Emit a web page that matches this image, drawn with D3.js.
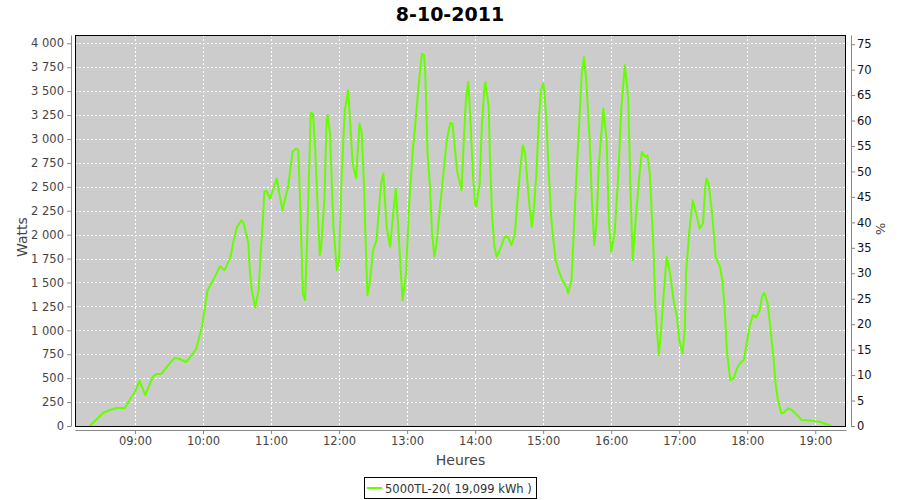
<!DOCTYPE html>
<html><head><meta charset="utf-8">
<script src="https://cdn.jsdelivr.net/npm/d3@7"></script>
<style>body{margin:0;background:#fff}svg{display:block}</style>
</head><body>
<svg id="c" width="900" height="500"></svg>
<script>
const title = "8-10-2011";
const seriesName = "5000TL-20( 19,099 kWh )";
const yLabel = "Watts", y2Label = "%", xLabel = "Heures";
const hourTicks = ["09:00","10:00","11:00","12:00","13:00","14:00","15:00","16:00","17:00","18:00","19:00"];
const wattTicks = [0,250,500,750,1000,1250,1500,1750,2000,2250,2500,2750,3000,3250,3500,3750,4000];
const pctTicks = [0,5,10,15,20,25,30,35,40,45,50,55,60,65,70,75];
const times = ["08:20","08:32","08:38","08:44","08:51","08:57","09:00","09:04","09:09","09:16","09:19","09:23","09:31","09:35","09:39","09:45","09:50","09:54","09:59","10:04","10:09","10:15","10:19","10:24","10:27","10:30","10:34","10:36","10:40","10:41","10:43","10:46","10:49","10:51","10:53","10:54","10:56","10:59","11:05","11:07","11:10","11:15","11:19","11:22","11:24","11:26","11:28","11:30","11:32","11:34","11:35","11:37","11:39","11:41","11:43","11:44","11:47","11:49","11:50","11:52","11:55","11:58","12:00","12:02","12:05","12:08","12:10","12:12","12:15","12:18","12:20","12:22","12:24","12:25","12:27","12:30","12:33","12:37","12:39","12:42","12:45","12:48","12:50","12:52","12:54","12:56","12:59","13:02","13:05","13:07","13:10","13:13","13:15","13:16","13:18","13:20","13:22","13:24","13:26","13:29","13:32","13:35","13:38","13:40","13:42","13:44","13:46","13:48","13:50","13:52","13:54","13:56","13:58","14:00","14:01","14:04","14:06","14:08","14:09","14:12","14:13","14:15","14:17","14:19","14:23","14:26","14:29","14:32","14:35","14:38","14:40","14:42","14:44","14:46","14:48","14:50","14:52","14:54","14:56","14:58","15:00","15:01","15:03","15:05","15:07","15:09","15:11","15:14","15:17","15:21","15:22","15:25","15:28","15:31","15:34","15:36","15:38","15:41","15:43","15:45","15:47","15:49","15:53","15:56","15:58","16:00","16:03","16:06","16:09","16:12","16:15","16:17","16:19","16:22","16:25","16:27","16:30","16:32","16:34","16:37","16:39","16:41","16:42","16:44","16:47","16:49","16:52","16:55","16:58","17:00","17:03","17:05","17:06","17:09","17:12","17:15","17:18","17:21","17:23","17:24","17:26","17:29","17:31","17:32","17:36","17:38","17:40","17:42","17:45","17:48","17:51","17:54","17:57","17:59","18:02","18:05","18:08","18:11","18:13","18:15","18:18","18:20","18:23","18:25","18:27","18:30","18:32","18:36","18:39","18:44","18:48","18:57","19:04","19:07","19:13","19:14"];
const watts = [0,139,167,188,188,306,358,473,324,522,543,543,661,710,703,668,738,807,1037,1420,1525,1671,1629,1754,1943,2081,2151,2117,1908,1664,1420,1240,1420,1838,2186,2447,2458,2378,2587,2450,2256,2500,2865,2900,2883,2221,1386,1316,2012,2847,3272,3265,2883,2290,1786,1838,2360,3196,3248,3057,2081,1629,1734,2534,3300,3509,3126,2743,2587,3161,3057,2500,1699,1368,1490,1838,1943,2534,2639,2081,1873,2256,2482,2117,1699,1316,1595,2360,2883,3126,3544,3892,3875,3684,2848,2534,2012,1768,1908,2290,2639,2987,3168,3161,2917,2674,2569,2465,2987,3439,3596,3161,2639,2326,2290,2534,3161,3509,3596,3335,2813,2186,1873,1768,1873,1977,1977,1890,2012,2465,2708,2935,2848,2569,2290,2081,2290,2639,3161,3509,3579,3509,3161,2639,2186,1943,1734,1612,1525,1438,1386,1525,2290,2987,3684,3857,3614,2987,2360,1890,2117,2708,3318,2987,2117,1820,2012,2569,3335,3770,3439,2465,1734,2221,2639,2865,2813,2830,2639,1943,1246,898,742,1003,1490,1768,1595,1316,1142,898,759,1037,1595,2047,2360,2221,2064,2117,2500,2587,2534,2221,1943,1768,1664,1525,1246,794,480,498,603,661,689,828,1037,1159,1135,1211,1350,1392,1281,1072,724,446,272,132,139,183,170,115,63,55,45,28,7,0];

const svg = d3.select("#c");
const L = 75, R = 846, T = 35, B = 426;
const parse = d3.timeParse("%Y-%m-%d %H:%M:%S");
const day = "2011-10-08 ";
const x = d3.scaleTime().domain([parse(day+"08:07:04"), parse(day+"19:27:06")]).range([L, R]);
const y = d3.scaleLinear().domain([0, 4086.7]).range([B, T]);
const y2 = d3.scaleLinear().domain([0, 76.8]).range([B, T]);
const font = "DejaVu Sans, sans-serif";

// plot background
svg.append("rect").attr("x", L).attr("y", T).attr("width", R-L).attr("height", B-T).attr("fill", "#cccccc");

// gridlines
const hourDates = hourTicks.map(h => parse(day + h + ":00"));
svg.append("g").selectAll("line").data(hourDates).join("line")
  .attr("x1", d => Math.round(x(d))+0.5).attr("x2", d => Math.round(x(d))+0.5)
  .attr("y1", T).attr("y2", B)
  .attr("stroke", "#fff").attr("stroke-dasharray", "2,2");
svg.append("g").selectAll("line").data(wattTicks.filter(v => v > 0)).join("line")
  .attr("x1", L).attr("x2", R)
  .attr("y1", d => Math.round(y(d))+0.5).attr("y2", d => Math.round(y(d))+0.5)
  .attr("stroke", "#fff").attr("stroke-dasharray", "2,2");

// line
const pts = times.map((t, i) => ({t: parse(day + t + ":00"), v: watts[i]}));
svg.append("path").datum(pts)
  .attr("fill", "none").attr("stroke", "#66ff00").attr("stroke-width", 2)
  .attr("stroke-linejoin", "round")
  .attr("d", d3.line().x(d => x(d.t)).y(d => y(d.v)));

// plot border
svg.append("rect").attr("x", L+0.5).attr("y", T+0.5).attr("width", R-L-1).attr("height", B-T)
  .attr("fill", "none").attr("stroke", "#000").attr("stroke-width", 1);

// axes
const fmt = d3.formatLocale({decimal: ",", thousands: "\u00a0", grouping: [3], currency: ["", ""]}).format(",d");
const styleAxis = (g, col) => {
  g.select(".domain").attr("stroke", "#888");
  g.selectAll(".tick line").attr("stroke", "#888");
  g.selectAll("text").attr("fill", col).style("font-family", font).style("font-size", "11.5px");
};
svg.append("g").attr("transform", `translate(${L-4},0)`)
  .call(d3.axisLeft(y).tickValues(wattTicks).tickFormat(fmt).tickSize(4).tickSizeOuter(0).tickPadding(3))
  .call(g => styleAxis(g, "#444"));
svg.append("g").attr("transform", `translate(${R+5},0)`)
  .call(d3.axisRight(y2).tickValues(pctTicks).tickSize(4).tickSizeOuter(0).tickPadding(2))
  .call(g => styleAxis(g, "#111"));
svg.append("g").attr("transform", `translate(0,${B+4})`)
  .call(d3.axisBottom(x).tickValues(hourDates).tickFormat(d3.timeFormat("%H:%M")).tickSize(4).tickSizeOuter(0).tickPadding(3))
  .call(g => styleAxis(g, "#444"));

// labels
svg.append("text").attr("x", 450).attr("y", 21).attr("text-anchor", "middle")
  .style("font-family", font).style("font-size", "19px").style("font-weight", "bold").attr("fill", "#000").text(title);
svg.append("text").attr("transform", "translate(27,237) rotate(-90)").attr("text-anchor", "middle")
  .style("font-family", font).style("font-size", "14px").attr("fill", "#444").text(yLabel);
svg.append("text").attr("transform", "translate(876,229) rotate(90)").attr("text-anchor", "middle")
  .style("font-family", font).style("font-size", "13px").attr("fill", "#444").text(y2Label);
svg.append("text").attr("x", (L+R)/2).attr("y", 465).attr("text-anchor", "middle")
  .style("font-family", font).style("font-size", "14px").attr("fill", "#444").text(xLabel);

// legend
const lg = svg.append("g");
lg.append("rect").attr("x", 364.5).attr("y", 477.5).attr("width", 172).attr("height", 21)
  .attr("fill", "#fff").attr("stroke", "#000");
lg.append("line").attr("x1", 367).attr("x2", 382).attr("y1", 488).attr("y2", 488)
  .attr("stroke", "#66ff00").attr("stroke-width", 2);
lg.append("text").attr("x", 385).attr("y", 492.5)
  .style("font-family", font).style("font-size", "11.5px").attr("fill", "#333").text(seriesName);
</script>
</body></html>
